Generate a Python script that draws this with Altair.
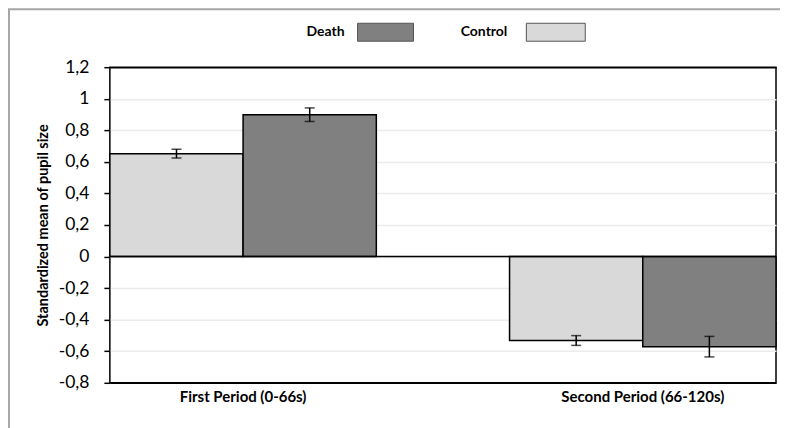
import altair as alt
import pandas as pd

periods = ["First Period (0-66s)", "Second Period (66-120s)"]
groups = ["Control", "Death"]
legend_order = ["Death", "Control"]
control_mean = [0.652, -0.532]
death_mean = [0.899, -0.571]
control_err = [0.028, 0.031]
death_err = [0.043, 0.065]
y_ticks = [-0.8, -0.6, -0.4, -0.2, 0, 0.2, 0.4, 0.6, 0.8, 1.0, 1.2]
colors = ["#d9d9d9", "#808080"]

rows = []
for i, p in enumerate(periods):
    rows.append(dict(period=p, group="Control", mean=control_mean[i], err=control_err[i]))
    rows.append(dict(period=p, group="Death", mean=death_mean[i], err=death_err[i]))
df = pd.DataFrame(rows)
df["lo"] = df["mean"] - df["err"]
df["hi"] = df["mean"] + df["err"]

FONT = "Lato"
color_scale = alt.Scale(domain=groups, range=colors)
y_scale = alt.Scale(domain=[-0.8, 1.2], nice=False, zero=False)

x_axis = alt.Axis(title=None, labelAngle=0, labelFont=FONT, labelFontWeight="bold",
                  labelFontSize=15, labelColor="black", ticks=False, domain=False,
                  labelPadding=7)
x_enc = alt.X("period:N", sort=periods,
              scale=alt.Scale(paddingInner=1 / 3, paddingOuter=0), axis=x_axis)
xoff = alt.XOffset("group:N", sort=groups, scale=alt.Scale(paddingInner=0, paddingOuter=0))

y_axis = alt.Axis(
    values=y_ticks,
    tickCount=11,
    labelExpr="replace(toString(round(datum.value*10)/10), '.', ',')",
    labelOverlap=False,
    title="Standardized mean of pupil size",
    titleFont=FONT, titleFontWeight="bold", titleFontSize=14.5, titleColor="black",
    titlePadding=8,
    labelFont=FONT, labelFontSize=17.5, labelColor="black", labelPadding=15,
    tickColor="black", tickSize=6, tickWidth=1.5,
    grid=True,
    gridColor=alt.condition("datum.value > 1.19 || datum.value < -0.79",
                            alt.value("black"), alt.value("#ebebeb")),
    gridWidth=1.5, domain=False,
)


def yq(field):
    return alt.Y(field, type="quantitative", scale=y_scale, axis=y_axis)


base = alt.Chart(df)

bars = base.mark_bar(stroke="black", strokeWidth=1.5).encode(
    x=x_enc, xOffset=xoff, y=yq("mean"),
    color=alt.Color("group:N", scale=color_scale, legend=None),
)

zero = alt.Chart(pd.DataFrame({"z": [0]})).mark_rule(color="black", strokeWidth=1.5).encode(
    y=yq("z")
)

err_rule = base.mark_rule(color="black", strokeWidth=1.5).encode(
    x=x_enc, xOffset=xoff, y=yq("lo"), y2="hi:Q"
)
cap_lo = base.mark_tick(color="black", thickness=1.5, size=10).encode(
    x=x_enc, xOffset=xoff, y=yq("lo")
)
cap_hi = base.mark_tick(color="black", thickness=1.5, size=10).encode(
    x=x_enc, xOffset=xoff, y=yq("hi")
)

leg_df = pd.DataFrame({"group": legend_order})
legend_layers = []
leg_pos = {"Death": (235, 248, 304), "Control": (398, 417, 476)}
for g in legend_order:
    tx, bx0, bx1 = leg_pos[g]
    sub = alt.Chart(leg_df).transform_filter(alt.datum.group == g)
    legend_layers.append(
        sub.mark_rect(stroke="#555555", strokeWidth=1).encode(
            x=alt.value(bx0), x2=alt.value(bx1), y=alt.value(-44), y2=alt.value(-26),
            color=alt.Color("group:N", scale=color_scale, legend=None),
        )
    )
    legend_layers.append(
        sub.mark_text(align="right", baseline="middle", font=FONT, fontWeight="bold",
                      fontSize=14, color="black").encode(
            text="group:N", x=alt.value(tx), y=alt.value(-35)
        )
    )

frame_df = pd.DataFrame({"b": [0]})
border = alt.Chart(frame_df).mark_rule(color="#a6a6a6", strokeWidth=2).encode(
    x=alt.value(-101), x2=alt.value(-101), y=alt.value(-58), y2=alt.value(362)
)
border_top = alt.Chart(frame_df).mark_rule(color="#a6a6a6", strokeWidth=2).encode(
    x=alt.value(-102), x2=alt.value(676), y=alt.value(-58), y2=alt.value(-58)
)

chart = alt.layer(
    bars, zero, err_rule, cap_lo, cap_hi, *legend_layers, border, border_top
).properties(
    width=667, height=316,
    background="white",
    padding={"left": 102, "top": 59, "right": 4, "bottom": 46},
    autosize=alt.AutoSizeParams(type="none"),
).configure_view(stroke="black", strokeWidth=1.5)

chart.save("out.html", embed_options={"renderer": "svg", "actions": False})
